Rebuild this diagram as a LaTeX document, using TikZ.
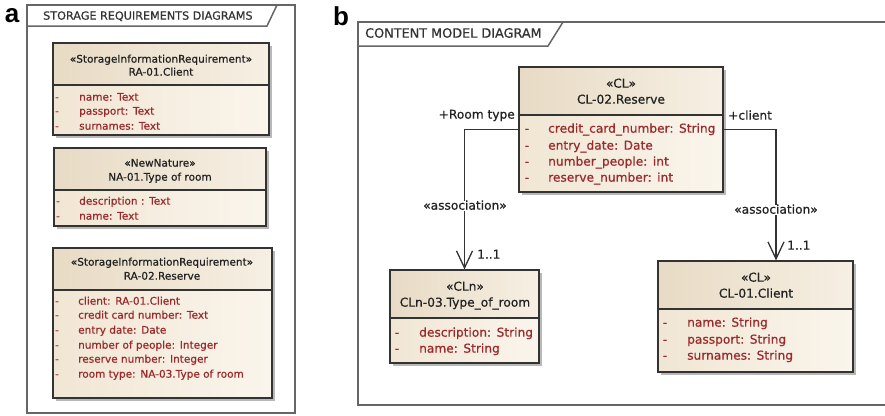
\documentclass[tikz,border=0pt]{standalone}
\usepackage{fontspec}
\setmainfont{DejaVu Sans}[FakeBold=0.6]
\newfontfamily\panelfont{Liberation Sans}
\usetikzlibrary{arrows.meta,fit}

\definecolor{framegray}{HTML}{666666}
\definecolor{boxline}{HTML}{333333}
\definecolor{headL}{HTML}{E8DBC5}
\definecolor{headR}{HTML}{F6EFE3}
\definecolor{bodyL}{HTML}{F1E6D4}
\definecolor{bodyR}{HTML}{FAF5EC}
\definecolor{attrred}{HTML}{9A2A2C}
\definecolor{inkdark}{HTML}{222222}
\definecolor{shadowgray}{HTML}{B8B8B8}

\tikzset{
  txt/.style={inner sep=0pt, text height=0.73em, text depth=0pt, text=inkdark},
  atxt/.style={txt, font=\fontsize{10.5}{12}\selectfont},
  btxt/.style={txt, font=\fontsize{12.2}{14}\selectfont},
  aattr/.style={atxt, text=attrred},
  battr/.style={btxt, text=attrred},
  frameline/.style={draw=framegray, line width=1.5pt},
  classedge/.style={draw=boxline, line width=1.2pt},
  assoc/.style={draw=boxline, line width=1.3pt,
    -{Straight Barb[length=17pt, width=16pt, line width=1.3pt]}},
  assoclabel/.style={btxt, fill=white, inner sep=1.5pt},
  panellabel/.style={inner sep=0pt, font=\panelfont\bfseries\fontsize{26}{26}\selectfont, text=black},
}

% class box: name, left, top, right, bottom, header separator
\newcommand{\classframe}[6]{%
  \fill[shadowgray] (#2+3,#3+3) rectangle (#4+3,#5+3);
  \shade[left color=headL, right color=headR] (#2,#3) rectangle (#4,#6);
  \shade[left color=bodyL, right color=bodyR] (#2,#6) rectangle (#4,#5);
  \draw[classedge] (#2,#6) -- (#4,#6);
  \node[fit={(#2,#3) (#4,#5)}, inner sep=0pt, classedge] (#1) {};
}
% attribute row: style, name, dash x, text x, y, text
\newcommand{\attrrow}[6]{%
  \node[#1] (#2-d) at (#3,#5) {-};
  \node[#1, anchor=west] (#2) at (#4,#5) {#6};
}
\newcommand{\gap}{\hspace{0.45em}}

\begin{document}
\begin{tikzpicture}[x=1pt, y=-1pt]
\useasboundingbox[fill=white] (0,0) rectangle (885,415);

% ---------- panel a ----------
\node[panellabel] (la) at (12,16) {a};
\draw[frameline] (27,5) rectangle (295,413);
\draw[frameline] (27,26) -- (267,26) -- (277,5);
\node[txt, anchor=west, font=\fontsize{11.2}{13}\selectfont, text=black!80] (ta) at (43,16)
  {STORAGE REQUIREMENTS DIAGRAMS};

\classframe{ra01}{53}{43}{269}{135}{85}
\node[atxt] (ra01s) at (161,59) {«StorageInformationRequirement»};
\node[atxt] (ra01n) at (161,72) {RA-01.Client};
\attrrow{aattr}{ra01a}{57}{79}{97}{name:\gap Text}
\attrrow{aattr}{ra01b}{57}{79}{111}{passport:\gap Text}
\attrrow{aattr}{ra01c}{57}{79}{126}{surnames:\gap Text}

\classframe{na01}{54}{148}{266}{226}{190}
\node[atxt] (na01s) at (160,163) {«NewNature»};
\node[atxt] (na01n) at (160,177) {NA-01.Type of room};
\attrrow{aattr}{na01a}{58}{79}{201}{description :\gap Text}
\attrrow{aattr}{na01b}{58}{79}{216}{name:\gap Text}

\classframe{ra02}{53}{248}{272}{398}{290}
\node[atxt] (ra02s) at (162,262) {«StorageInformationRequirement»};
\node[atxt] (ra02n) at (162,276) {RA-02.Reserve};
\attrrow{aattr}{ra02a}{57}{78}{301}{client:\gap RA-01.Client}
\attrrow{aattr}{ra02b}{57}{78}{315}{credit card number:\gap Text}
\attrrow{aattr}{ra02c}{57}{78}{330}{entry date:\gap Date}
\attrrow{aattr}{ra02d}{57}{78}{345}{number of people:\gap Integer}
\attrrow{aattr}{ra02e}{57}{78}{359}{reserve number:\gap Integer}
\attrrow{aattr}{ra02f}{57}{78}{374}{room type:\gap NA-03.Type of room}

% ---------- panel b ----------
\node[panellabel] (lb) at (341,16) {b};
\draw[frameline] (890,22) -- (358,22) -- (358,405) -- (890,405);
\draw[frameline] (358,46) -- (548,46) -- (563,22);
\node[txt, anchor=west, font=\fontsize{12.8}{15}\selectfont, text=black!80] (tb) at (365,34)
  {CONTENT MODEL DIAGRAM};

\classframe{cl02}{519}{67}{723}{192}{115}
\node[btxt] (cl02s) at (621,84) {«CL»};
\node[btxt] (cl02n) at (621,100) {CL-02.Reserve};
\attrrow{battr}{cl02a}{527}{548}{129}{credit\_card\_number:\gap String}
\attrrow{battr}{cl02b}{527}{548}{146}{entry\_date:\gap Date}
\attrrow{battr}{cl02c}{527}{548}{162}{number\_people:\gap int}
\attrrow{battr}{cl02d}{527}{548}{178}{reserve\_number:\gap int}

\classframe{cln03}{390}{270}{539}{363}{318}
\node[btxt] (cln03s) at (465,287) {«CLn»};
\node[btxt] (cln03n) at (465,303) {CLn-03.Type\_of\_room};
\attrrow{battr}{cln03a}{397}{419}{333}{description:\gap String}
\attrrow{battr}{cln03b}{397}{419}{349}{name:\gap String}

\classframe{cl01}{658}{261}{853}{372}{309}
\node[btxt] (cl01s) at (756,278) {«CL»};
\node[btxt] (cl01n) at (756,294) {CL-01.Client};
\attrrow{battr}{cl01a}{665}{687}{323}{name:\gap String}
\attrrow{battr}{cl01b}{665}{687}{340}{passport:\gap String}
\attrrow{battr}{cl01c}{665}{687}{356}{surnames:\gap String}

% associations
\draw[assoc] (cl02.west) -| (cln03.north);
\draw[assoc] (cl02.east) -| ([xshift=20.5pt]cl01.north);

\node[btxt, anchor=east] (rt) at (515,115) {+Room type};
\node[btxt, anchor=west] (cli) at (728,116) {+client};
\node[assoclabel] (as1) at (465,206) {«association»};
\node[assoclabel] (as2) at (776,210) {«association»};
\node[btxt, anchor=west] (m1) at (477,255) {1..1};
\node[btxt, anchor=west] (m2) at (787,246) {1..1};
\end{tikzpicture}
\end{document}
